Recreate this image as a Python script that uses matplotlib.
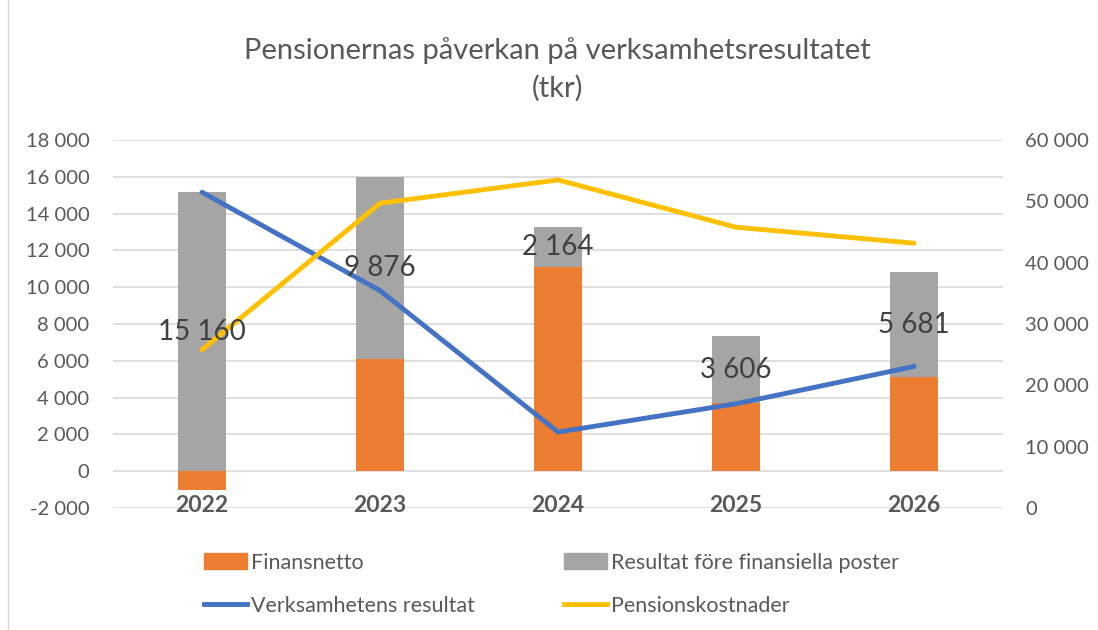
import matplotlib
matplotlib.use('Agg')
import matplotlib.pyplot as plt
import matplotlib.ticker as mtick
from matplotlib.lines import Line2D
from matplotlib.patches import Patch

plt.rcParams['font.family'] = ['Lato', 'DejaVu Sans']

# tkr per year
years = ['2022', '2023', '2024', '2025', '2026']
finansnetto = [-1000, 6100, 11100, 3720, 5130]
resultat_fore_fin = [15160, 9876, 2164, 3606, 5681]
verksamhetens_resultat = [51480, 35450, 12380, 16990, 23070]
pensionskostnader = [25790, 49690, 53490, 45780, 43170]

ORANGE = '#ED7D31'
GRAY = '#A5A5A5'
BLUE = '#4472C4'
YELLOW = '#FFC000'
TEXT = '#595959'


def space_thousands(x, pos=None):
    return f'{x:,.0f}'.replace(',', ' ')


fig = plt.figure(figsize=(10.98, 6.3), dpi=100)
ax = fig.add_axes([0.1029, 0.1937, 0.8106, 0.5841])
ax2 = ax.twinx()

x = list(range(len(years)))
bar_w = 0.27

# negative values stack below zero, positive ones from zero upward
bottoms = [max(f, 0) for f in finansnetto]
ax.bar(x, finansnetto, width=bar_w, color=ORANGE, zorder=2)
ax.bar(x, resultat_fore_fin, width=bar_w, bottom=bottoms, color=GRAY, zorder=2)

ax2.plot(x, verksamhetens_resultat, color=BLUE, lw=3.5, solid_capstyle='round', zorder=3)
ax2.plot(x, pensionskostnader, color=YELLOW, lw=3.5, solid_capstyle='round', zorder=3)

# value labels go on the top axes so they sit over the lines
for i, (b, v) in enumerate(zip(bottoms, resultat_fore_fin)):
    ax2.text(i, b + v / 2, space_thousands(v), transform=ax.transData,
             ha='center', va='center', fontsize=20, color='#404040', zorder=5)

ax.set_xlim(-0.5, len(years) - 0.5)
ax.set_ylim(-2000, 18000)
ax.set_yticks(range(-2000, 18001, 2000))
ax.yaxis.set_major_formatter(mtick.FuncFormatter(space_thousands))
ax2.set_ylim(0, 60000)
ax2.set_yticks(range(0, 60001, 10000))
ax2.yaxis.set_major_formatter(mtick.FuncFormatter(space_thousands))

ax.grid(axis='y', color='#D9D9D9', lw=1.2, zorder=0)
ax.set_axisbelow(True)
ax.set_xticks(x)
ax.set_xticklabels([])
for i, yr in enumerate(years):
    ax.text(i, -1850, yr, ha='center', va='center', fontsize=16.5,
            fontweight='bold', color=TEXT, zorder=1)

for a in (ax, ax2):
    for s in a.spines.values():
        s.set_visible(False)
    a.tick_params(length=0, labelsize=14.5, labelcolor=TEXT)
ax.tick_params(axis='y', pad=17)
ax2.tick_params(axis='y', pad=16)
ax2.set_zorder(ax.get_zorder() + 1)
ax2.patch.set_visible(False)

fig.text(0.508, 0.92, 'Pensionernas påverkan på verksamhetsresultatet',
         ha='center', va='center', fontsize=21, color=TEXT)
fig.text(0.508, 0.86, '(tkr)', ha='center', va='center', fontsize=21, color=TEXT)

handles = [Patch(color=ORANGE), Line2D([], [], color=BLUE, lw=3.5),
           Patch(color=GRAY), Line2D([], [], color=YELLOW, lw=3.5)]
labels = ['Finansnetto', 'Verksamhetens resultat',
          'Resultat före finansiella poster', 'Pensionskostnader']
leg = fig.legend(handles, labels, ncol=2, frameon=False, loc='upper left',
                 bbox_to_anchor=(0.176, 0.14), fontsize=15.5, labelcolor=TEXT,
                 handlelength=2.0, handleheight=0.8, handletextpad=0.2,
                 columnspacing=4.1, labelspacing=1.1, borderpad=0)

fig.add_artist(Line2D([0.007, 0.007], [0.0, 1.0], color='#D9D9D9', lw=1))

fig.savefig('out.png', dpi=100)
